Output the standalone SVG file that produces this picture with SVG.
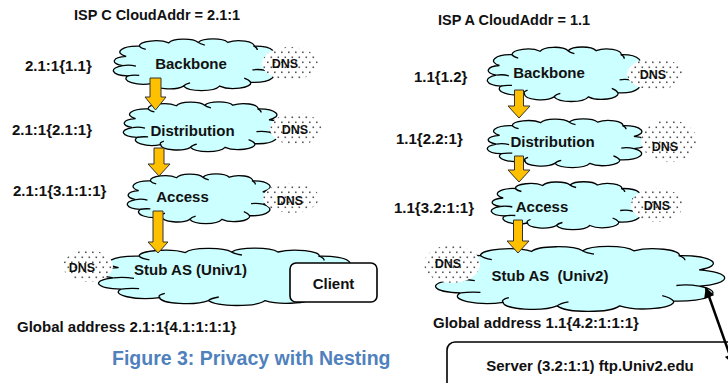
<svg xmlns="http://www.w3.org/2000/svg" width="728" height="383" viewBox="0 0 728 383">
  <style>
    text { font-family: "Liberation Sans", Arial, sans-serif; font-weight: bold; fill: #111; }
    .title { font-size: 14.5px; }
    .lbl { font-size: 15px; }
    .node { font-size: 15px; text-anchor: middle; }
    .dns { font-size: 12.5px; text-anchor: middle; }
    .caption { font-size: 19.5px; fill: #4F81BD; }
    .cloud { fill: #CCFFFF; stroke: #000; stroke-width: 1.3; }
    .wig { fill: none; stroke: #000; stroke-width: 1.3; }
    .dnsbg { fill: #fff; stroke: none; }
    .dnsdots { fill: url(#dots); stroke: none; }
    .box { fill: #fff; stroke: #000; stroke-width: 1.6; }
    .flow { fill: #FFC000; stroke: #333; stroke-width: 1; }
    .link { fill: none; stroke: #000; stroke-width: 2.5; }
  </style>
  <defs>
    <!-- cloud outline in a 100x100 box, scaled per node -->
    <path id="cloudShape" vector-effect="non-scaling-stroke"
          d="M8 36 A10.8 10.8 0 0 1 16 17 A10 10 0 0 1 34 11 A9.5 9.5 0 0 1 52 10 A9.5 9.5 0 0 1 70 10 A9.2 9.2 0 0 1 86 17 A11.5 11.5 0 0 1 93 38 A12.5 12.5 0 0 1 93 62 A12.3 12.3 0 0 1 84 84 A10.5 10.5 0 0 1 65 91 A11.5 11.5 0 0 1 43 91 A10.2 10.2 0 0 1 24 86 A10.7 10.7 0 0 1 9 72 A10 10 0 0 1 6 53 A9 9 0 0 1 8 36 Z"/>
    <!-- inner strokes of the cloud -->
    <path id="cloudLines" vector-effect="non-scaling-stroke"
          d="M6 53 Q10 51 14 54 M9 72 Q12 70 16 71 M16 17 Q17 21 20 23 M52 10 Q53 13 56 15 M86 17 Q88 20 88 24 M93 62 Q89 59 85 61 M84 84 Q83 79 80 76 M43 91 Q44 87 47 85 M24 86 Q23 82 26 79"/>
    <pattern id="dots" width="7" height="10" patternUnits="userSpaceOnUse">
      <rect x="1" y="1.5" width="1.6" height="1.6" fill="#555"/>
      <rect x="4.5" y="6.5" width="1.6" height="1.6" fill="#555"/>
    </pattern>
    <marker id="head" viewBox="0 0 10 10" refX="9" refY="5" markerWidth="5" markerHeight="4.2"
            orient="auto-start-reverse" markerUnits="strokeWidth">
      <path d="M0 0 L10 5 L0 10 Z" fill="#000"/>
    </marker>
  </defs>

  <!-- headings -->
  <text class="title" x="74" y="20">ISP C CloudAddr = 2.1:1</text>
  <text class="title" x="438" y="25">ISP A CloudAddr = 1.1</text>

  <!-- ISP C hierarchy -->
  <g id="c-backbone">
    <g transform="translate(113,37) scale(1.64,0.54)">
      <use href="#cloudShape" class="cloud"/>
      <use href="#cloudLines" class="wig"/>
    </g>
    <text class="node" x="191" y="69">Backbone</text>
  </g>
  <g id="c-backbone-dns">
    <ellipse class="dnsbg" cx="290" cy="63.5" rx="28" ry="16.5"/>
    <ellipse class="dnsdots" cx="290" cy="63.5" rx="28" ry="16.5"/>
    <text class="dns" x="285" y="68">DNS</text>
  </g>

  <g id="c-distribution">
    <g transform="translate(123,100) scale(1.57,0.52)">
      <use href="#cloudShape" class="cloud"/>
      <use href="#cloudLines" class="wig"/>
    </g>
    <text class="node" x="192.5" y="136">Distribution</text>
  </g>
  <g id="c-distribution-dns">
    <ellipse class="dnsbg" cx="296" cy="129" rx="26" ry="16"/>
    <ellipse class="dnsdots" cx="296" cy="129" rx="26" ry="16"/>
    <text class="dns" x="295" y="133.5">DNS</text>
  </g>

  <g id="c-access">
    <g transform="translate(127,172) scale(1.46,0.52)">
      <use href="#cloudShape" class="cloud"/>
      <use href="#cloudLines" class="wig"/>
    </g>
    <text class="node" x="182.5" y="202">Access</text>
  </g>
  <g id="c-access-dns">
    <ellipse class="dnsbg" cx="291" cy="198" rx="28" ry="15"/>
    <ellipse class="dnsdots" cx="291" cy="198" rx="28" ry="15"/>
    <text class="dns" x="290" y="205">DNS</text>
  </g>

  <g id="c-stub">
    <g transform="translate(98,246) scale(2.57,0.6)">
      <use href="#cloudShape" class="cloud"/>
      <use href="#cloudLines" class="wig"/>
    </g>
    <text class="node" x="190.5" y="275">Stub AS (Univ1)</text>
  </g>
  <g id="c-stub-dns">
    <ellipse class="dnsbg" cx="88" cy="266" rx="25" ry="16"/>
    <ellipse class="dnsdots" cx="88" cy="266" rx="25" ry="16"/>
    <text class="dns" x="82" y="272">DNS</text>
  </g>

  <g id="client">
    <rect class="box" x="290" y="263" width="87" height="39" rx="6"/>
    <text class="node" x="333.5" y="289">Client</text>
  </g>

  <!-- ISP A hierarchy -->
  <g id="a-backbone">
    <g transform="translate(487,45) scale(1.56,0.57)">
      <use href="#cloudShape" class="cloud"/>
      <use href="#cloudLines" class="wig"/>
    </g>
    <text class="node" x="549" y="78">Backbone</text>
  </g>
  <g id="a-backbone-dns">
    <ellipse class="dnsbg" cx="655" cy="74" rx="28" ry="16"/>
    <ellipse class="dnsdots" cx="655" cy="74" rx="28" ry="16"/>
    <text class="dns" x="653" y="78.5">DNS</text>
  </g>

  <g id="a-distribution">
    <g transform="translate(487,117) scale(1.58,0.51)">
      <use href="#cloudShape" class="cloud"/>
      <use href="#cloudLines" class="wig"/>
    </g>
    <text class="node" x="552.5" y="147">Distribution</text>
  </g>
  <g id="a-distribution-dns">
    <ellipse class="dnsbg" cx="669" cy="141" rx="28" ry="21"/>
    <ellipse class="dnsdots" cx="669" cy="141" rx="28" ry="21"/>
    <text class="dns" x="665" y="151">DNS</text>
  </g>

  <g id="a-access">
    <g transform="translate(491,180) scale(1.52,0.5)">
      <use href="#cloudShape" class="cloud"/>
      <use href="#cloudLines" class="wig"/>
    </g>
    <text class="node" x="542" y="212">Access</text>
  </g>
  <g id="a-access-dns">
    <ellipse class="dnsbg" cx="657" cy="205" rx="26" ry="17"/>
    <ellipse class="dnsdots" cx="657" cy="205" rx="26" ry="17"/>
    <text class="dns" x="657" y="210">DNS</text>
  </g>

  <g id="a-stub">
    <g transform="translate(435,244) scale(2.84,0.68)">
      <use href="#cloudShape" class="cloud"/>
      <use href="#cloudLines" class="wig"/>
    </g>
    <text class="node" x="550" y="281" style="white-space:pre">Stub AS  (Univ2)</text>
  </g>
  <g id="a-stub-dns">
    <ellipse class="dnsbg" cx="452" cy="264" rx="28" ry="19"/>
    <ellipse class="dnsdots" cx="452" cy="264" rx="28" ry="19"/>
    <text class="dns" x="448" y="267.5">DNS</text>
  </g>

  <g id="server">
    <rect class="box" x="447" y="342" width="300" height="60" rx="8"/>
    <text class="node" x="590" y="371">Server (3.2:1:1) ftp.Univ2.edu</text>
  </g>

  <!-- address labels -->
  <g id="labels">
    <text class="lbl" x="25" y="71">2.1:1{1.1}</text>
    <text class="lbl" x="12" y="135">2.1:1{2.1:1}</text>
    <text class="lbl" x="13" y="196">2.1:1{3.1:1:1}</text>
    <text class="lbl" x="17" y="332">Global address 2.1:1{4.1:1:1:1}</text>
    <text class="lbl" x="414" y="82">1.1{1.2}</text>
    <text class="lbl" x="396" y="144">1.1{2.2:1}</text>
    <text class="lbl" x="394" y="213">1.1{3.2:1:1}</text>
    <text class="lbl" x="433" y="328">Global address 1.1{4.2:1:1:1}</text>
    <text class="caption" x="112" y="365">Figure 3: Privacy with Nesting</text>
  </g>

  <!-- connectors -->
  <g id="connectors">
    <path class="flow" d="M150 78 H161 V97 H166 L155.5 110 L145 97 H150 Z"/>
    <path class="flow" d="M154 148 H164 V164 H170 L159 176 L148 164 H154 Z"/>
    <path class="flow" d="M153 211 H163 V242 H168 L158 253 L148 242 H153 Z"/>
    <path class="flow" d="M514.5 90 H523.5 V106 H530 L519 118 L508 106 H514.5 Z"/>
    <path class="flow" d="M514.5 156 H523.5 V170 H530 L519 182 L508 170 H514.5 Z"/>
    <path class="flow" d="M513.5 220 H522.5 V241 H529 L518 253 L507 241 H513.5 Z"/>
    <line class="link" x1="706" y1="288" x2="733" y2="364" marker-start="url(#head)" marker-end="url(#head)"/>
  </g>
</svg>
